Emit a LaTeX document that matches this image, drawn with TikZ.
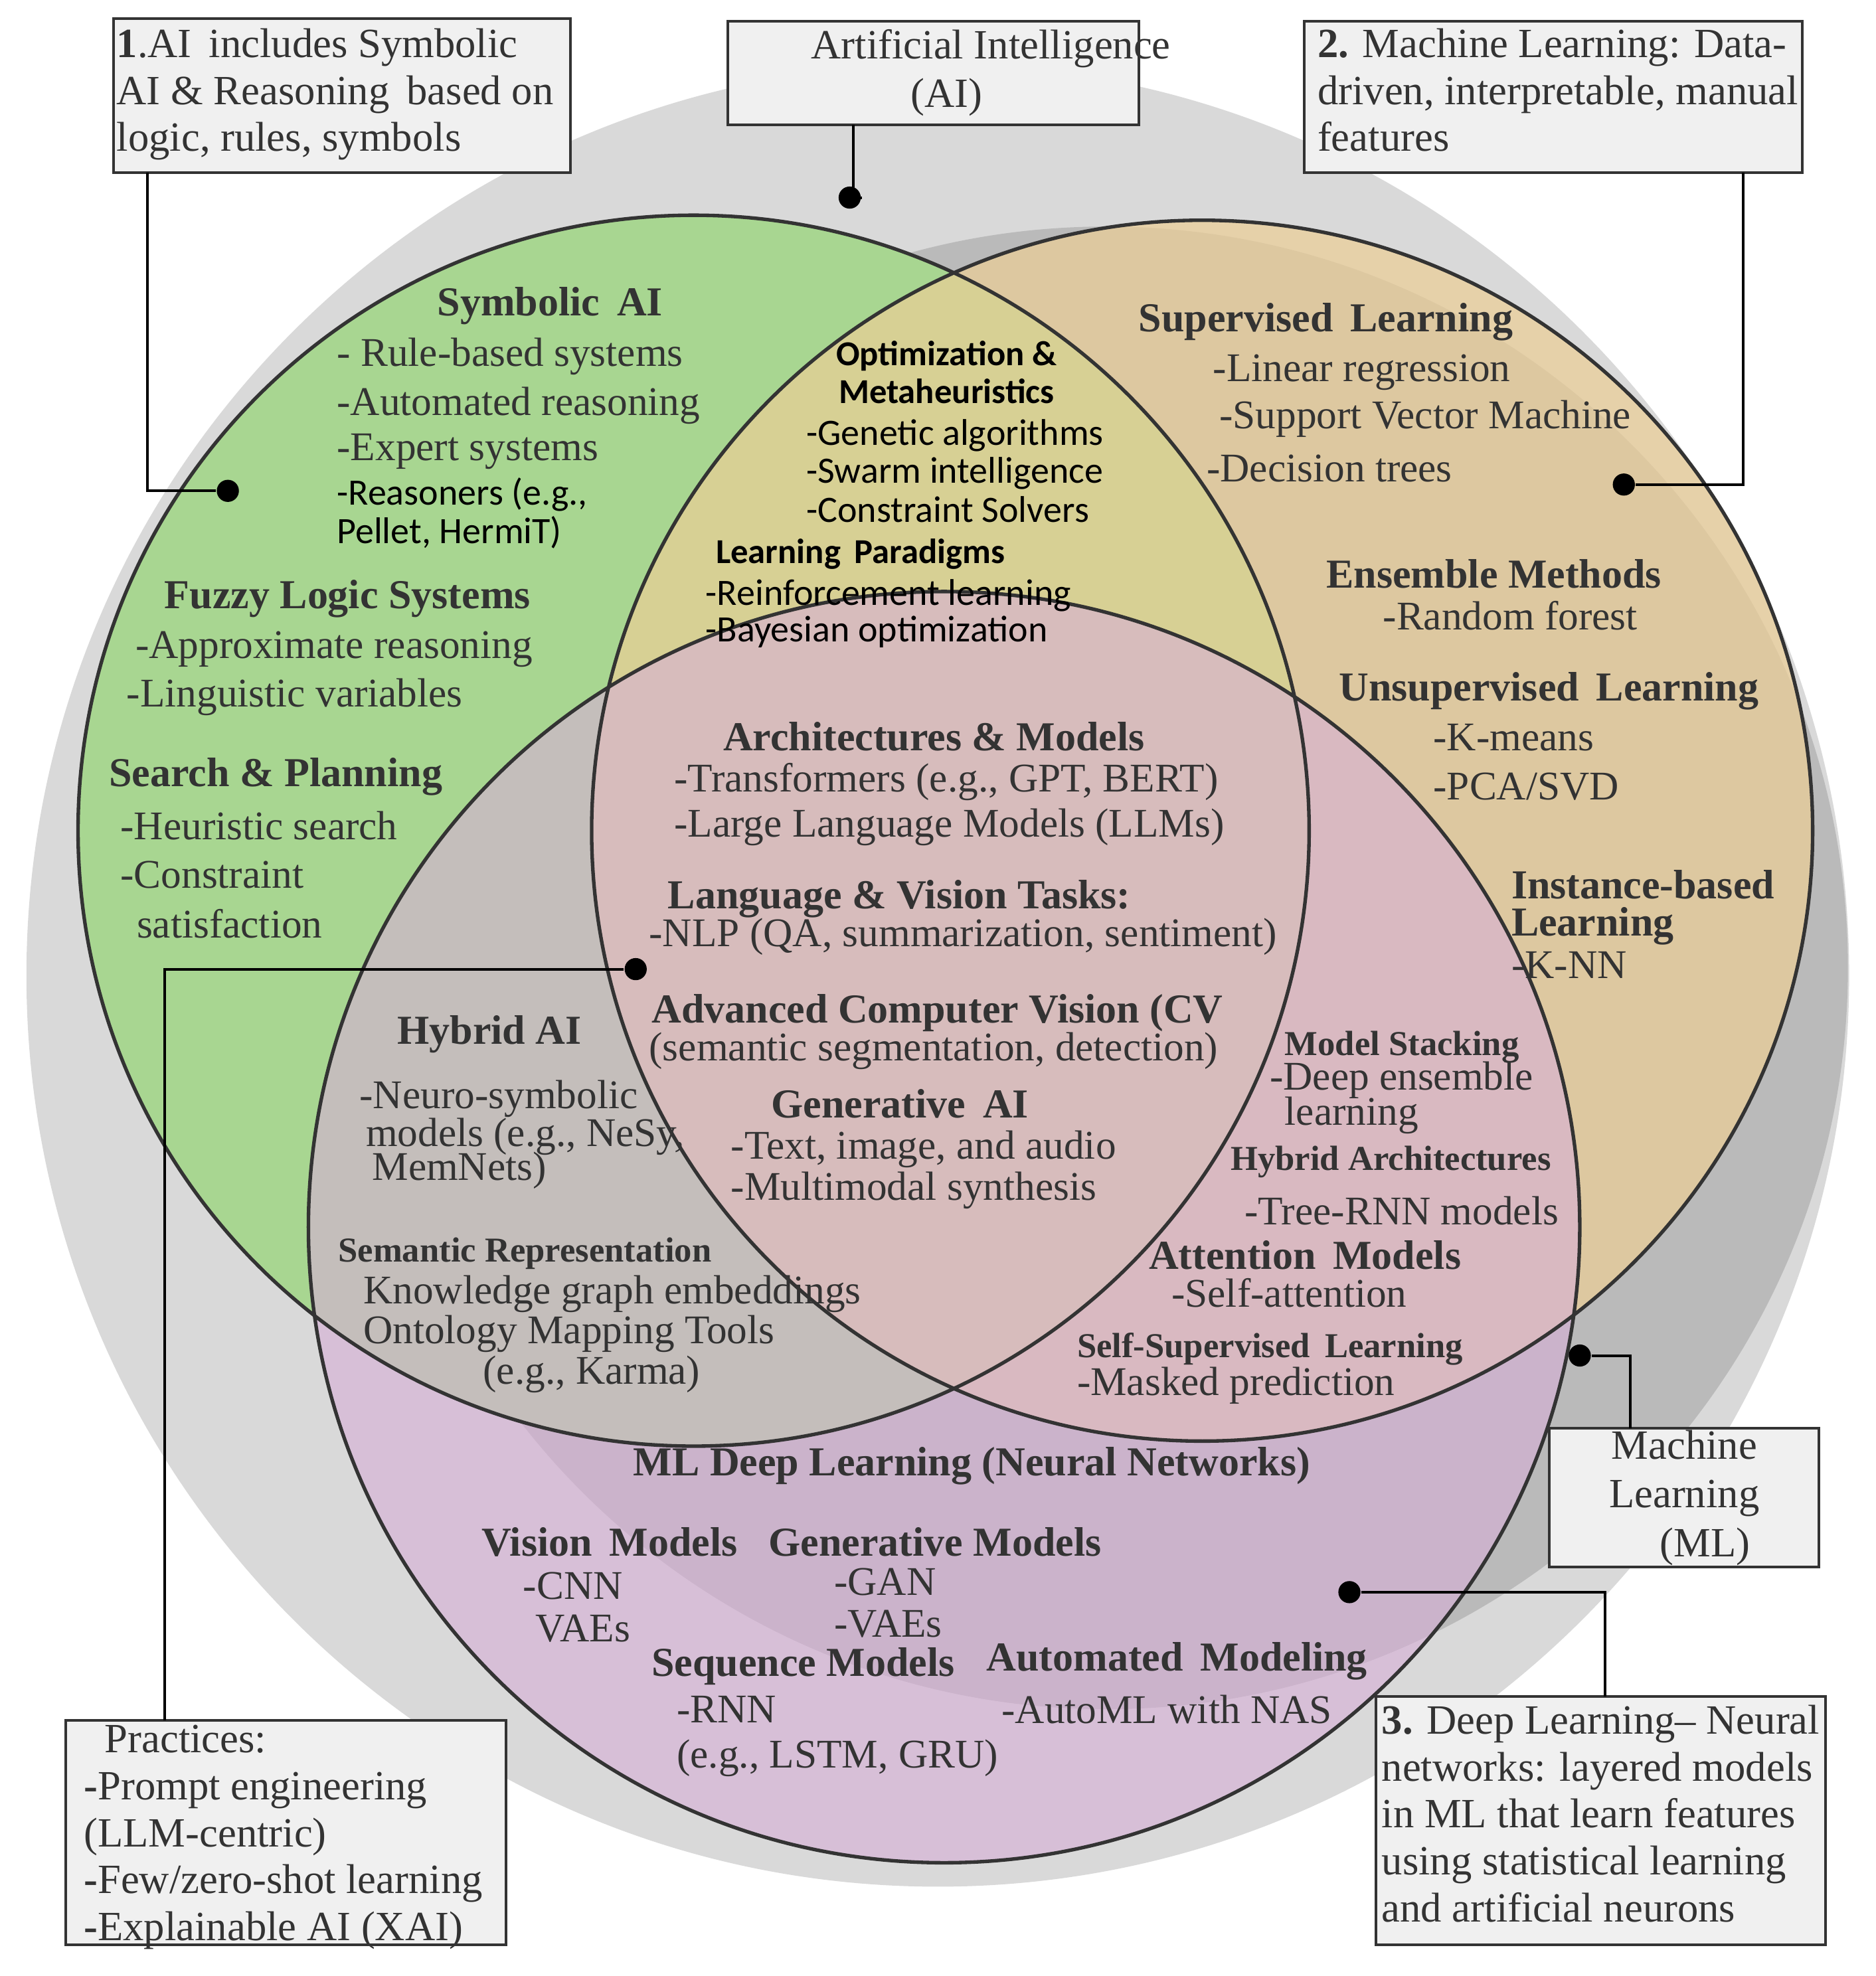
\documentclass[tikz,border=0pt]{standalone}
\usepackage{fontspec}
\setmainfont{Liberation Serif}
\newfontfamily\sanf{Carlito}
\begin{document}
\begin{tikzpicture}[x=0.01cm,y=-0.01cm,
  t/.style={anchor=west,inner sep=0,text=black!80,font=\fontsize{9.2}{10}\selectfont},
  tc/.style={t,anchor=center},
  h/.style={t,font=\fontsize{9.3}{10}\selectfont\bfseries},
  hc/.style={h,anchor=center},
  hs/.style={t,font=\fontsize{7.9}{9}\selectfont\bfseries},
  s/.style={t,text=black,font=\fontsize{8.4}{9}\sanf},
  sb/.style={s,font=\fontsize{7.9}{9}\sanf\bfseries},
  box/.style={draw=black!80,fill=black!6,line width=0.6pt},
  bt/.style={t,align=left,font=\fontsize{9.4}{10.6}\selectfont},
  ln/.style={draw=black,line width=0.6pt},
  dot/.style={circle,fill=black,inner sep=0,minimum size=5pt}]
\useasboundingbox (0,0) rectangle (1490,1570);
\fill[white] (0,0) rectangle (1490,1570);
% circles
\fill[black!15] (745,775) circle (724);
\fill[black!27] (879,769) circle (589);
\fill[color={rgb,255:red,168;green,214;blue,145}] (551,660) circle (489);
\fill[color={rgb,255:red,236;green,206;blue,150},fill opacity=0.7] (955,660) circle (485);
\fill[color={rgb,255:red,215;green,175;blue,215},fill opacity=0.6] (750,975) circle (505);
\draw[black!80,line width=0.8pt] (551,660) circle (489) (955,660) circle (485) (750,975) circle (505);
% boxes
\draw[box] (90,15) rectangle (453,137);
\node[bt,anchor=north west] at (92,22) {\textbf{1}.AI\, includes Symbolic\\AI \& Reasoning\, based on\\logic, rules, symbols};
\draw[box] (578,17) rectangle (905,99);
\node[t,align=center,anchor=center,font=\fontsize{9.4}{11}\selectfont] at (752,58) {\hspace*{20pt}Artificial Intelligence\\(AI)};
\draw[box] (1036,17) rectangle (1432,137);
\node[bt,anchor=north west] at (1046,22) {\textbf{2.} Machine Learning: Data-\\driven, interpretable, manual\\features};
\draw[box] (52,1367) rectangle (402,1545);
\node[bt,anchor=north west] at (66,1370) {\ \ Practices:\\\textbf{-}Prompt engineering\\(LLM-centric)\\\textbf{-}Few/zero-shot learning\\\textbf{-}Explainable AI (XAI)};
\draw[box] (1231,1135) rectangle (1445,1245);
\node[t,align=center,anchor=center,font=\fontsize{9.4}{11}\selectfont] at (1338,1190) {Machine\\Learning\\\quad(ML)};
\draw[box] (1093,1348) rectangle (1450,1545);
\node[bt,anchor=north west] at (1097,1354) {\textbf{3.} Deep Learning-- Neural\\networks: layered models\\in ML that learn features\\using statistical learning\\and artificial neurons};
% dots & connectors
\node[dot] (d1) at (181,390) {};
\node[dot] (dai) at (675,157) {};
\node[dot] (d2) at (1290,385) {};
\node[dot] (dp) at (505,770) {};
\node[dot] (dml) at (1255,1077) {};
\node[dot] (d3) at (1072,1265) {};
\coordinate (c1) at (117,137); \coordinate (cai) at (678,99);
\coordinate (c2) at (1385,137); \coordinate (cp) at (131,1367);
\coordinate (cml) at (1295,1135); \coordinate (c3) at (1275,1348);
\draw[ln] (c1) |- (d1);
\draw[ln] (cai) -- (cai|-dai) -- (dai);
\draw[ln] (c2) |- (d2);
\draw[ln] (cp) |- (dp);
\draw[ln] (cml) |- (dml);
\draw[ln] (c3) |- (d3);
% green
\node[hc] at (437,243) {Symbolic\, AI};
\node[t] at (267,283) {- Rule-based systems};
\node[t] at (267,322) {-Automated reasoning};
\node[t] at (267,359) {-Expert systems};
\node[s] at (267,393) {-Reasoners (e.g.,};
\node[s] at (267,423) {Pellet, HermiT)};
\node[h] at (130,476) {Fuzzy Logic Systems};
\node[t] at (107,516) {-Approximate reasoning};
\node[t] at (100,554) {-Linguistic variables};
\node[h] at (86,617) {Search \& Planning};
\node[t] at (95,656) {-Heuristic search};
\node[t] at (95,695) {-Constraint};
\node[t] at (108,734) {satisfaction};
% top overlap
\node[sb,anchor=center] at (752,283) {Optimization \&};
\node[sb,anchor=center] at (752,311) {Metaheuristics};
\node[s] at (640,346) {-Genetic algorithms};
\node[s] at (640,376) {-Swarm intelligence};
\node[s] at (640,405) {-Constraint Solvers};
\node[sb] at (568,440) {Learning\, Paradigms};
\node[s] at (560,473) {-Reinforcement learning};
\node[s] at (560,502) {-Bayesian optimization};
% tan
\node[h] at (904,256) {Supervised\, Learning};
\node[t] at (963,296) {-Linear regression};
\node[t] at (968,333) {-Support Vector Machine};
\node[t] at (958,372) {-Decision trees};
\node[h] at (1053,456) {Ensemble Methods};
\node[t] at (1098,489) {-Random forest};
\node[h] at (1063,549) {Unsupervised\, Learning};
\node[t] at (1138,586) {-K-means};
\node[t] at (1138,625) {-PCA/SVD};
\node[h] at (1200,703) {Instance-based};
\node[h] at (1200,736) {Learning};
\node[t] at (1200,767) {-K-NN};
% center
\node[hc] at (742,585) {Architectures \& Models};
\node[t] at (535,621) {-Transformers (e.g., GPT, BERT)};
\node[t] at (535,657) {-Large Language Models (LLMs)};
\node[h] at (530,714) {Language \& Vision Tasks:};
\node[t] at (515,744) {-NLP (QA, summarization, sentiment)};
\node[h] at (517,805) {Advanced Computer Vision (CV};
\node[t] at (515,835) {(semantic segmentation, detection)};
\node[hc] at (715,877) {Generative\, AI};
\node[t] at (580,913) {-Text, image, and audio};
\node[t] at (580,946) {-Multimodal synthesis};
% hybrid
\node[h] at (315,822) {Hybrid AI};
\node[t] at (285,873) {-Neuro-symbolic};
\node[t] at (290,903) {models (e.g., NeSy,};
\node[t] at (295,930) {MemNets)};
\node[hs] at (268,996) {Semantic Representation};
\node[t] at (288,1028) {Knowledge graph embeddings};
\node[t] at (288,1060) {Ontology Mapping Tools};
\node[tc] at (470,1092) {(e.g., Karma)};
% pink
\node[hs] at (1020,832) {Model Stacking};
\node[t] at (1008,858) {-Deep ensemble};
\node[t] at (1020,886) {learning};
\node[hs] at (977,923) {Hybrid Architectures};
\node[t] at (988,962) {-Tree-RNN models};
\node[h] at (912,997) {Attention\, Models};
\node[t] at (930,1027) {-Self-attention};
\node[hs] at (855,1072) {Self-Supervised\, Learning};
\node[t] at (855,1101) {-Masked prediction};
% purple
\node[hc] at (772,1165) {ML Deep Learning (Neural Networks)};
\node[h] at (382,1225) {Vision\, Models};
\node[t] at (415,1260) {-CNN};
\node[t] at (425,1294) {VAEs};
\node[h] at (610,1225) {Generative Models};
\node[t] at (662,1257) {-GAN};
\node[t] at (662,1290) {-VAEs};
\node[h] at (517,1324) {Sequence Models};
\node[t] at (537,1358) {-RNN};
\node[t] at (537,1397) {(e.g., LSTM, GRU)};
\node[h] at (783,1320) {Automated\, Modeling};
\node[t] at (795,1358) {-AutoML with NAS};
\end{tikzpicture}
\end{document}
